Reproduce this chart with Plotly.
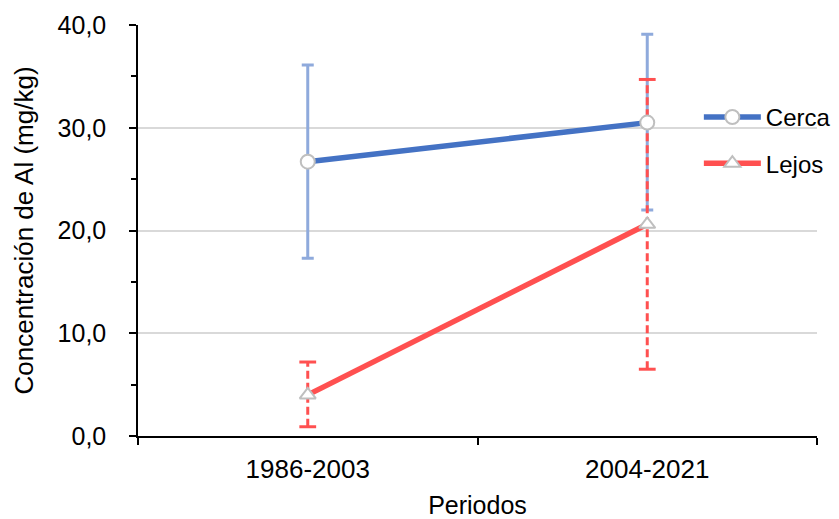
import plotly.graph_objects as go

periodos = ["1986-2003", "2004-2021"]
cerca = [26.7, 30.5]
cerca_sup = [36.1, 39.1]
cerca_inf = [17.3, 22.0]
lejos = [4.0, 20.6]
lejos_sup = [7.2, 34.7]
lejos_inf = [0.9, 6.5]
y_ticks = [0, 10, 20, 30, 40]
y_labels = ["0,0", "10,0", "20,0", "30,0", "40,0"]

BLUE = "#4472C4"
LBLUE = "#8FAADC"
RED = "#FF5050"
GRAY = "#BFBFBF"
FONT = "Liberation Sans, Arial, sans-serif"

fig = go.Figure()

# Cerca error bars (solid)
fig.add_trace(go.Scatter(
    x=periodos, y=cerca, mode="markers", marker=dict(size=1, opacity=0),
    error_y=dict(type="data", symmetric=False,
                 array=[u - m for u, m in zip(cerca_sup, cerca)],
                 arrayminus=[m - l for m, l in zip(cerca, cerca_inf)],
                 color=LBLUE, thickness=3, width=6),
    showlegend=False, hoverinfo="skip"))

# Lejos error bars (dashed)
ex, ey = [], []
for p, lo, hi in zip(periodos, lejos_inf, lejos_sup):
    ex += [p, p, None]
    ey += [lo, hi, None]
fig.add_trace(go.Scatter(x=ex, y=ey, mode="lines",
                         line=dict(color=RED, width=3, dash="8px,4px"),
                         showlegend=False, hoverinfo="skip"))
fig.add_trace(go.Scatter(x=periodos + periodos, y=lejos_inf + lejos_sup, mode="markers",
                         marker=dict(symbol="line-ew", size=12,
                                     line=dict(color=RED, width=3)),
                         showlegend=False, hoverinfo="skip"))

fig.add_trace(go.Scatter(
    x=periodos, y=cerca, name="Cerca", mode="lines+markers", legendgroup="a",
    line=dict(color=BLUE, width=5.5),
    marker=dict(symbol="circle", size=14, color="white", line=dict(color=GRAY, width=2))))
fig.add_trace(go.Scatter(
    x=periodos, y=lejos, name="Lejos", mode="lines+markers", legendgroup="b",
    line=dict(color=RED, width=5.5),
    marker=dict(symbol="triangle-up", size=14, color="white", line=dict(color=GRAY, width=2))))

fig.update_layout(
    width=831, height=511,
    margin=dict(l=130, r=22, t=17, b=83, autoexpand=False),
    paper_bgcolor="white", plot_bgcolor="white",
    font=dict(family=FONT, size=25, color="#000000"),
    legend=dict(x=0.826, y=0.83, xanchor="left", yanchor="top",
                bgcolor="rgba(0,0,0,0)", traceorder="grouped", tracegroupgap=12,
                itemwidth=57, font=dict(size=24)),
    xaxis=dict(type="category", range=[-0.5, 1.5], showgrid=False, automargin=False,
               showline=True, linecolor="#000000", linewidth=1.5,
               ticks="outside", tickson="boundaries", ticklen=7, tickcolor="#000000",
               tickwidth=1.5, tickfont=dict(size=26), ticklabelstandoff=9,
               title=dict(text="Periodos", standoff=23, font=dict(size=25))),
    yaxis=dict(range=[0, 40], tickvals=y_ticks, ticktext=y_labels, automargin=False,
               showgrid=True, gridcolor="#D9D9D9", gridwidth=1.5,
               showline=True, linecolor="#000000", linewidth=1.5,
               ticks="outside", ticklen=7, tickcolor="#000000", tickwidth=1.5,
               ticklabelstandoff=18, tickfont=dict(size=25),
               minor=dict(dtick=5, ticks="outside", ticklen=5, tickcolor="#000000",
                          showgrid=False),
               zeroline=False,
               title=dict(text="Concentración de Al (mg/kg)", standoff=16,
                          font=dict(size=26))),
)

fig.write_html("out.html")
